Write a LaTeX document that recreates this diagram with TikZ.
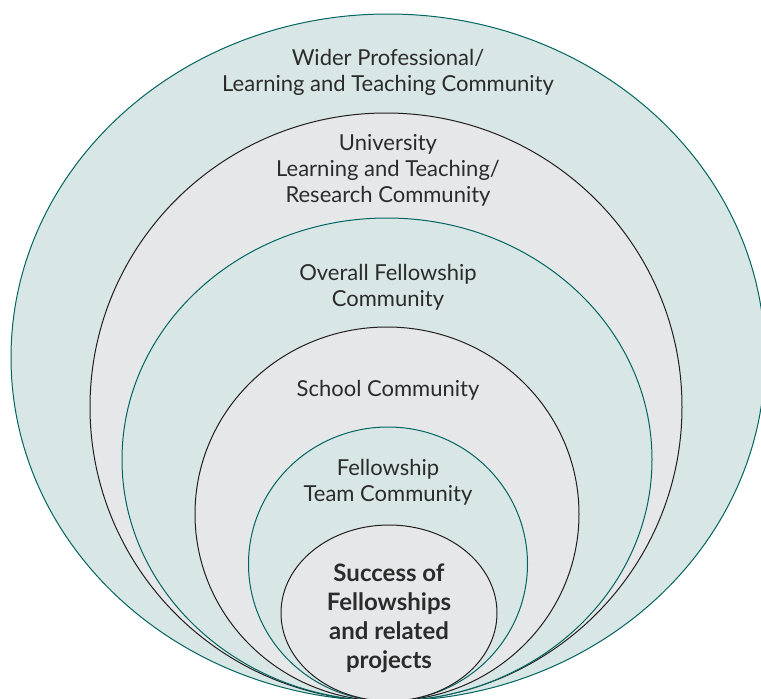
\documentclass[tikz,border=0pt]{standalone}
\usepackage{fontspec}
\setmainfont{Lato}
\definecolor{tealfill}{HTML}{D8E6E5}
\definecolor{grayfill}{HTML}{E6E7E8}
\definecolor{tealline}{HTML}{006560}
\definecolor{darkline}{HTML}{231F20}
\definecolor{txt}{HTML}{2B2B2B}
\begin{document}
\begin{tikzpicture}[x=1pt,y=-1pt,
  ring/.style={line width=1pt},
  tealring/.style={ring, draw=tealline, fill=tealfill},
  grayring/.style={ring, draw=darkline, fill=grayfill},
  lbl/.style={align=center, text=txt, font=\fontsize{22}{26}\selectfont, anchor=base, inner sep=0pt},
  boldlbl/.style={lbl, font=\fontsize{24}{28.7}\selectfont\bfseries}]
\useasboundingbox (0,0) rectangle (761,699);
\clip (0,0) rectangle (761,699);
\fill[white] (0,0) rectangle (761,699);
\draw[tealring] (388,357.5) ellipse [x radius=377, y radius=343.5];
\draw[grayring] (386,407) ellipse [x radius=296, y radius=294];
\draw[tealring] (387,459.5) ellipse [x radius=265, y radius=241.5];
\draw[grayring] (387,514) ellipse [x radius=192, y radius=187];
\draw[tealring] (388,564) ellipse [x radius=139.5, y radius=137];
\draw[grayring] (389,613) ellipse [x radius=108, y radius=88];
\node[lbl] (wider) at (388,91) {Wider Professional/\\Learning and Teaching Community};
\node[lbl] (univ) at (388,202) {University\\Learning and Teaching/\\Research Community};
\node[lbl] (overall) at (388,306) {Overall Fellowship\\Community};
\node[lbl] (school) at (388,396) {School Community};
\node[lbl] (team) at (388,501) {Fellowship\\Team Community};
\node[boldlbl] (success) at (389,668) {Success of\\Fellowships\\and related\\projects};
\end{tikzpicture}
\end{document}
